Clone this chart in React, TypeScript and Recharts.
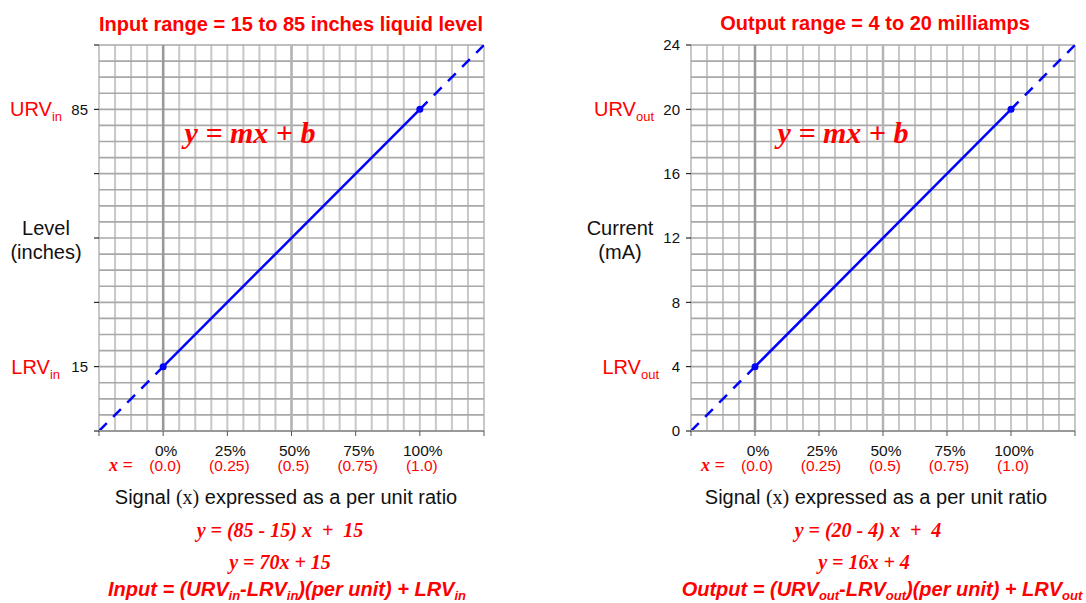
import React from "react";
import {
  LineChart,
  Line,
  XAxis,
  YAxis,
  CartesianGrid,
  ReferenceLine,
} from "recharts";

// shared signal axis (per unit)
const signalTicks = [-0.25, 0, 0.25, 0.5, 0.75, 1, 1.25];
const percentLabels = ["", "0%", "25%", "50%", "75%", "100%", ""];
const perUnitLabels = ["", "(0.0)", "(0.25)", "(0.5)", "(0.75)", "(1.0)", ""];
const signalMajor = [0, 0.5];
const majorColors = ["#999999", "#b4b4b4"];

// input panel: liquid level, inches
const levelTicks = [-2.5, 15, 32.5, 50, 67.5, 85, 102.5];
const levelTickLabels = ["", "15", "", "", "", "85", ""];
const levelLimitLabels = ["", "LRV", "", "", "", "URV", ""];
const levelDomain = [-2.5, 102.5];
const levelRangeSignal = [0, 1];
const levelRange = [15, 85];
const levelLowSignal = [-0.25, 0];
const levelLow = [-2.5, 15];
const levelHighSignal = [1.25, 1];
const levelHigh = [102.5, 85];

// output panel: current, mA
const currentTicks = [0, 4, 8, 12, 16, 20, 24];
const currentTickLabels = ["0", "4", "8", "12", "16", "20", "24"];
const currentLimitLabels = ["", "LRV", "", "", "", "URV", ""];
const currentDomain = [0, 24];
const currentRangeSignal = [0, 1];
const currentRange = [4, 20];
const currentLowSignal = [-0.25, 0];
const currentLow = [0, 4];
const currentHighSignal = [1.25, 1];
const currentHigh = [24, 20];

const SANS = '"Liberation Sans", Arial, sans-serif';
const SERIF = '"Liberation Serif", "Times New Roman", serif';
const RED = "#ff0000";
const BLUE = "#0000ff";

const toPoints = (xs: number[], ys: number[]) =>
  xs.map((x, i) => ({ x, y: ys[i] }));

const gridSteps = (from: number, to: number, n: number) =>
  Array.from({ length: n + 1 }, (_, i) => from + ((to - from) * i) / n);

function XTick(props: any) {
  const { x, y, payload } = props;
  const i = signalTicks.indexOf(payload.value);
  return (
    <g>
      {i === 0 && (
        <text
          x={x + 10}
          y={y + 35}
          fontFamily={SERIF}
          fontWeight={700}
          fontStyle="italic"
          fontSize={18}
          fill={RED}
        >
          x =
        </text>
      )}
      <text x={x + 3} y={y + 20} textAnchor="middle" fontFamily={SANS} fontSize={15.5} fill="#111">
        {percentLabels[i]}
      </text>
      <text x={x + 2} y={y + 35} textAnchor="middle" fontFamily={SANS} fontSize={15.5} fill={RED}>
        {perUnitLabels[i]}
      </text>
    </g>
  );
}

function makeYTick(ticks: number[], labels: string[], limits: string[], sub: string, gaps: number[]) {
  return (props: any) => {
    const { x, y, payload } = props;
    const i = ticks.indexOf(payload.value);
    const lim = limits[i];
    return (
      <g>
        <text x={x} y={y} dy="0.35em" textAnchor="end" fontFamily={SANS} fontSize={15} fill="#111">
          {labels[i]}
        </text>
        {lim && (
          <text
            x={x - (lim === "URV" ? gaps[1] : gaps[0])}
            y={y}
            dy="0.35em"
            textAnchor="end"
            fontFamily={SANS}
            fontSize={20}
            fill={RED}
          >
            {lim}
            <tspan fontSize={13} dy={5}>
              {sub}
            </tspan>
          </text>
        )}
      </g>
    );
  };
}

function Txt({ x, y, children, style }: any) {
  return (
    <div
      style={{
        position: "absolute",
        left: x,
        top: y,
        transform: "translate(-50%, -50%)",
        whiteSpace: "pre",
        lineHeight: 1,
        ...style,
      }}
    >
      {children}
    </div>
  );
}

const Sub = ({ children }: any) => (
  <span style={{ fontSize: 13, verticalAlign: "-4px", lineHeight: 0 }}>{children}</span>
);

interface PanelProps {
  left: number;
  width: number;
  marginLeft: number;
  marginRight: number;
  yTicks: number[];
  yTickLabels: string[];
  yLimits: string[];
  sub: string;
  gaps: number[];
  domain: number[];
  rows: number;
  solid: { x: number; y: number }[];
  low: { x: number; y: number }[];
  high: { x: number; y: number }[];
}

function Panel(p: PanelProps) {
  const cols = gridSteps(-0.25, 1.25, 24);
  const rows = gridSteps(p.domain[0], p.domain[1], p.rows);
  return (
    <div style={{ position: "absolute", left: p.left, top: 0 }}>
      <LineChart
        width={p.width}
        height={603}
        margin={{ top: 45, right: p.marginRight, bottom: 122, left: p.marginLeft }}
      >
        <CartesianGrid
          horizontal={false}
          verticalValues={cols}
          stroke="#c8c8c8"
          strokeWidth={2}
        />
        <CartesianGrid
          vertical={false}
          horizontalValues={rows}
          stroke="#a8a8a8"
          strokeWidth={1.6}
        />
        {signalMajor.map((v, i) => (
          <ReferenceLine key={v} x={v} stroke={majorColors[i]} strokeWidth={2.5} />
        ))}
        <XAxis
          type="number"
          dataKey="x"
          domain={[-0.25, 1.25]}
          ticks={signalTicks}
          interval={0}
          height={50}
          tickSize={5}
          tickMargin={0}
          axisLine={{ stroke: "#999", strokeWidth: 2 }}
          tickLine={{ stroke: "#555" }}
          tick={<XTick />}
          allowDataOverflow
        />
        <YAxis
          type="number"
          dataKey="y"
          domain={p.domain}
          ticks={p.yTicks}
          interval={0}
          width={60}
          tickSize={5}
          tickMargin={6}
          axisLine={false}
          tickLine={{ stroke: "#000" }}
          tick={makeYTick(p.yTicks, p.yTickLabels, p.yLimits, p.sub, p.gaps)}
          allowDataOverflow
        />
        <Line
          data={p.low}
          dataKey="y"
          type="linear"
          stroke={BLUE}
          strokeWidth={2.5}
          strokeDasharray="11 9"
          dot={false}
          activeDot={false}
          isAnimationActive={false}
        />
        <Line
          data={p.high}
          dataKey="y"
          type="linear"
          stroke={BLUE}
          strokeWidth={2.5}
          strokeDasharray="11 9"
          dot={false}
          activeDot={false}
          isAnimationActive={false}
        />
        <Line
          data={p.solid}
          dataKey="y"
          type="linear"
          stroke={BLUE}
          strokeWidth={2.5}
          dot={{ r: 3.5, fill: BLUE, stroke: BLUE, strokeWidth: 0 }}
          activeDot={false}
          isAnimationActive={false}
        />
      </LineChart>
    </div>
  );
}

export default function App() {
  const titleStyle = { fontFamily: SANS, fontWeight: 700, fontSize: 20, color: RED };
  const eqStyle = { fontFamily: SERIF, fontWeight: 700, fontStyle: "italic", fontSize: 20, color: RED };
  const bigEq = { fontFamily: SERIF, fontWeight: 700, fontStyle: "italic", fontSize: 30, color: RED };
  const lawStyle = { fontFamily: SANS, fontWeight: 700, fontStyle: "italic", fontSize: 20, color: RED };
  const axisName = { fontFamily: SANS, fontSize: 20, color: "#111", textAlign: "center" as const, lineHeight: "24px" };
  const signalName = { fontFamily: SANS, fontSize: 20, color: "#111" };

  return (
    <div style={{ position: "absolute", left: 0, top: 0, width: 1086, height: 603, background: "#fff", overflow: "hidden" }}>
      <Panel
        left={0}
        width={540}
        marginLeft={39}
        marginRight={56}
        yTicks={levelTicks}
        yTickLabels={levelTickLabels}
        yLimits={levelLimitLabels}
        sub="in"
        gaps={[28, 26]}
        domain={levelDomain}
        rows={24}
        solid={toPoints(levelRangeSignal, levelRange)}
        low={toPoints(levelLowSignal, levelLow)}
        high={toPoints(levelHighSignal, levelHigh)}
      />
      <Panel
        left={543}
        width={543}
        marginLeft={88}
        marginRight={11}
        yTicks={currentTicks}
        yTickLabels={currentTickLabels}
        yLimits={currentLimitLabels}
        sub="out"
        gaps={[21, 26]}
        domain={currentDomain}
        rows={24}
        solid={toPoints(currentRangeSignal, currentRange)}
        low={toPoints(currentLowSignal, currentLow)}
        high={toPoints(currentHighSignal, currentHigh)}
      />

      <Txt x={291} y={24} style={titleStyle}>Input range = 15 to 85 inches liquid level</Txt>
      <Txt x={875} y={23} style={titleStyle}>Output range = 4 to 20 milliamps</Txt>

      <Txt x={250} y={133} style={bigEq}>y = mx + b</Txt>
      <Txt x={843} y={133} style={bigEq}>y = mx + b</Txt>

      <Txt x={46} y={240} style={axisName}>Level{"\n"}(inches)</Txt>
      <Txt x={620} y={240} style={axisName}>Current{"\n"}(mA)</Txt>

      <Txt x={286} y={497} style={signalName}>
        Signal <span style={{ fontFamily: SERIF }}>(x)</span> expressed as a per unit ratio
      </Txt>
      <Txt x={876} y={497} style={signalName}>
        Signal <span style={{ fontFamily: SERIF }}>(x)</span> expressed as a per unit ratio
      </Txt>

      <Txt x={280} y={530} style={eqStyle}>y = (85 - 15) x  +  15</Txt>
      <Txt x={280} y={562} style={eqStyle}>y = 70x + 15</Txt>
      <Txt x={287} y={589} style={lawStyle}>
        Input = (URV<Sub>in</Sub>-LRV<Sub>in</Sub>)(per unit) + LRV<Sub>in</Sub>
      </Txt>

      <Txt x={868} y={530} style={eqStyle}>y = (20 - 4) x  +  4</Txt>
      <Txt x={864} y={562} style={eqStyle}>y = 16x + 4</Txt>
      <Txt x={882} y={589} style={lawStyle}>
        Output = (URV<Sub>out</Sub>-LRV<Sub>out</Sub>)(per unit) + LRV<Sub>out</Sub>
      </Txt>
    </div>
  );
}
